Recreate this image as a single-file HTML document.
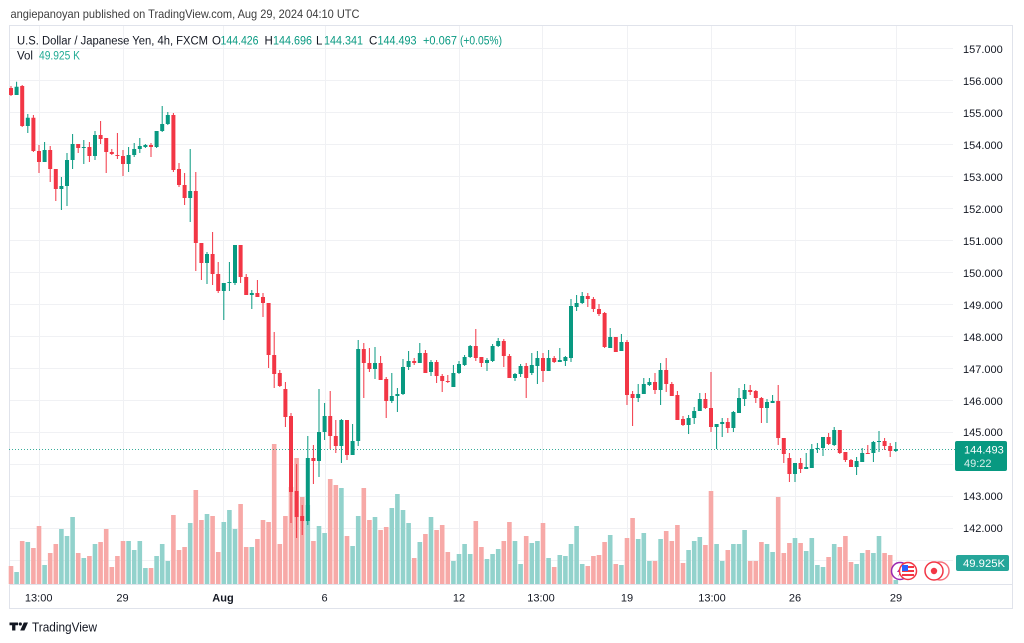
<!DOCTYPE html>
<html>
<head>
<meta charset="utf-8">
<style>
html,body{margin:0;padding:0;background:#fff;}
svg{display:block;font-family:"Liberation Sans",sans-serif;}
</style>
</head>
<body>
<svg width="1024" height="643" viewBox="0 0 1024 643" xmlns="http://www.w3.org/2000/svg">
<rect width="1024" height="643" fill="#fff"/>
<text x="10.5" y="18" font-size="12" fill="#3d3d3d" textLength="349" lengthAdjust="spacingAndGlyphs">angiepanoyan published on TradingView.com, Aug 29, 2024 04:10 UTC</text>

<!-- grid -->
<g stroke="#f0f1f4" stroke-width="1">
<path d="M9 48.5H953M9 80.5H953M9 112.5H953M9 144.5H953M9 176.5H953M9 208.5H953M9 240.5H953M9 272.5H953M9 304.5H953M9 336.5H953M9 368.5H953M9 400.5H953M9 432.5H953M9 464.5H953M9 496.5H953M9 528.5H953M9 560.5H953"/>
<path d="M39.5 26V584M123.5 26V584M223.5 26V584M325.5 26V584M459.5 26V584M542.5 26V584M627.5 26V584M711.5 26V584M795.5 26V584M896.5 26V584"/>
</g>

<!-- frame -->
<rect x="9.5" y="25.5" width="1003" height="583" fill="none" stroke="#e0e3eb"/>
<path d="M9 584.5H1013" stroke="#e0e3eb"/>

<!-- volume -->
<path fill="#92d2cc" d="M14.3 572h4.6V584h-4.6zM25.5 542h4.6V584h-4.6zM42.3 565h4.6V584h-4.6zM59.1 529h4.6V584h-4.6zM64.7 536h4.6V584h-4.6zM70.3 517h4.6V584h-4.6zM81.5 558h4.6V584h-4.6zM92.7 544h4.6V584h-4.6zM126.3 541h4.6V584h-4.6zM131.9 550h4.6V584h-4.6zM137.5 541h4.6V584h-4.6zM143.1 568h4.6V584h-4.6zM154.3 556h4.6V584h-4.6zM159.9 544h4.6V584h-4.6zM165.5 561h4.6V584h-4.6zM187.9 523h4.6V584h-4.6zM204.7 514h4.6V584h-4.6zM221.5 522h4.6V584h-4.6zM227.1 510h4.6V584h-4.6zM232.7 529h4.6V584h-4.6zM249.5 547h4.6V584h-4.6zM305.5 505h4.6V584h-4.6zM316.7 526h4.6V584h-4.6zM322.3 533h4.6V584h-4.6zM339.1 488h4.6V584h-4.6zM350.3 546h4.6V584h-4.6zM355.9 516h4.6V584h-4.6zM372.7 517h4.6V584h-4.6zM389.5 508h4.6V584h-4.6zM395.1 494h4.6V584h-4.6zM400.7 510h4.6V584h-4.6zM406.3 523h4.6V584h-4.6zM417.5 542h4.6V584h-4.6zM428.7 517h4.6V584h-4.6zM451.1 561h4.6V584h-4.6zM456.7 554h4.6V584h-4.6zM462.3 544h4.6V584h-4.6zM467.9 554h4.6V584h-4.6zM484.7 559h4.6V584h-4.6zM490.3 554h4.6V584h-4.6zM495.9 549h4.6V584h-4.6zM512.7 541h4.6V584h-4.6zM518.3 564h4.6V584h-4.6zM529.5 543h4.6V584h-4.6zM535.1 541h4.6V584h-4.6zM546.3 558h4.6V584h-4.6zM557.5 555h4.6V584h-4.6zM563.1 556h4.6V584h-4.6zM568.7 544h4.6V584h-4.6zM574.3 526h4.6V584h-4.6zM579.9 564h4.6V584h-4.6zM607.9 535h4.6V584h-4.6zM619.1 565h4.6V584h-4.6zM635.9 539h4.6V584h-4.6zM641.5 533h4.6V584h-4.6zM647.1 561h4.6V584h-4.6zM658.3 539h4.6V584h-4.6zM686.3 550h4.6V584h-4.6zM691.9 541h4.6V584h-4.6zM697.5 537h4.6V584h-4.6zM714.3 544h4.6V584h-4.6zM719.9 561h4.6V584h-4.6zM731.1 544h4.6V584h-4.6zM736.7 544h4.6V584h-4.6zM742.3 530h4.6V584h-4.6zM764.7 544h4.6V584h-4.6zM770.3 552h4.6V584h-4.6zM792.7 538h4.6V584h-4.6zM803.9 551h4.6V584h-4.6zM809.5 538h4.6V584h-4.6zM815.1 565h4.6V584h-4.6zM820.7 567h4.6V584h-4.6zM831.9 544h4.6V584h-4.6zM854.3 564h4.6V584h-4.6zM859.9 553h4.6V584h-4.6zM871.1 553h4.6V584h-4.6zM876.7 536h4.6V584h-4.6zM893.5 580h4.6V584h-4.6z"/>
<path fill="#f7a9a7" d="M8.7 566h4.6V584h-4.6zM19.9 541h4.6V584h-4.6zM31.1 548h4.6V584h-4.6zM36.7 526h4.6V584h-4.6zM47.9 553h4.6V584h-4.6zM53.5 544h4.6V584h-4.6zM75.9 553h4.6V584h-4.6zM87.1 556h4.6V584h-4.6zM98.3 542h4.6V584h-4.6zM103.9 529h4.6V584h-4.6zM109.5 567h4.6V584h-4.6zM115.1 556h4.6V584h-4.6zM120.7 541h4.6V584h-4.6zM148.7 568h4.6V584h-4.6zM171.1 515h4.6V584h-4.6zM176.7 550h4.6V584h-4.6zM182.3 547h4.6V584h-4.6zM193.5 490h4.6V584h-4.6zM199.1 520h4.6V584h-4.6zM210.3 516h4.6V584h-4.6zM215.9 552h4.6V584h-4.6zM238.3 504h4.6V584h-4.6zM243.9 547h4.6V584h-4.6zM255.1 539h4.6V584h-4.6zM260.7 520h4.6V584h-4.6zM266.3 522h4.6V584h-4.6zM271.9 444h4.6V584h-4.6zM277.5 544h4.6V584h-4.6zM283.1 516h4.6V584h-4.6zM288.7 487h4.6V584h-4.6zM294.3 458h4.6V584h-4.6zM299.9 497h4.6V584h-4.6zM311.1 541h4.6V584h-4.6zM327.9 479h4.6V584h-4.6zM333.5 485h4.6V584h-4.6zM344.7 536h4.6V584h-4.6zM361.5 488h4.6V584h-4.6zM367.1 520h4.6V584h-4.6zM378.3 530h4.6V584h-4.6zM383.9 527h4.6V584h-4.6zM411.9 558h4.6V584h-4.6zM423.1 534h4.6V584h-4.6zM434.3 530h4.6V584h-4.6zM439.9 525h4.6V584h-4.6zM445.5 552h4.6V584h-4.6zM473.5 521h4.6V584h-4.6zM479.1 547h4.6V584h-4.6zM501.5 541h4.6V584h-4.6zM507.1 522h4.6V584h-4.6zM523.9 536h4.6V584h-4.6zM540.7 523h4.6V584h-4.6zM551.9 567h4.6V584h-4.6zM585.5 566h4.6V584h-4.6zM591.1 556h4.6V584h-4.6zM596.7 555h4.6V584h-4.6zM602.3 542h4.6V584h-4.6zM613.5 564h4.6V584h-4.6zM624.7 538h4.6V584h-4.6zM630.3 518h4.6V584h-4.6zM652.7 561h4.6V584h-4.6zM663.9 531h4.6V584h-4.6zM669.5 541h4.6V584h-4.6zM675.1 525h4.6V584h-4.6zM680.7 563h4.6V584h-4.6zM703.1 545h4.6V584h-4.6zM708.7 491h4.6V584h-4.6zM725.5 550h4.6V584h-4.6zM747.9 561h4.6V584h-4.6zM753.5 561h4.6V584h-4.6zM759.1 542h4.6V584h-4.6zM775.9 497h4.6V584h-4.6zM781.5 553h4.6V584h-4.6zM787.1 543h4.6V584h-4.6zM798.3 543h4.6V584h-4.6zM826.3 557h4.6V584h-4.6zM837.5 547h4.6V584h-4.6zM843.1 536h4.6V584h-4.6zM848.7 562h4.6V584h-4.6zM865.5 550h4.6V584h-4.6zM882.3 553h4.6V584h-4.6zM887.9 555h4.6V584h-4.6z"/>

<!-- last price dotted line -->
<path d="M9 449.5H955" stroke="#089981" stroke-width="1" stroke-dasharray="1 2" opacity="0.8"/>

<!-- candles: green -->
<path stroke="#089981" stroke-width="1" fill="none" d="M16.6 81.7V95M27.8 114V133M44.6 142V162M61.4 177V210M67 153V206M72.6 134V169M83.8 140V164M95 131V160M128.6 147V172M134.2 143V157M139.8 138V153M145.4 144V148M156.6 131V148M162.2 106V132M167.8 112V125M190.2 149V222M207 252V284M223.8 283V320M229.4 262V291M235 245V285M251.8 290V309M307.8 436V525M319 389V477M324.6 403V440M341.4 419V463M352.6 424V455M358.2 340V446M375 347V379M391.8 373V403M397.4 388V412M403 359V395M408.6 351V370M419.8 343V363M431 360V376M453.4 365V387M459 361V374M464.6 355V366M470.2 345V358M487 358V371M492.6 344V362M498.2 338V347M515 373V381M520.6 364V377M531.8 353V375M537.4 351V384M548.6 350V371M559.8 348V362M565.4 356V366M571 299V362M576.6 295V311M582.2 292V304M610.2 328V348M621.4 334V351M638.2 384V402M643.8 378V394M649.4 378V386M660.6 363V405M688.6 415V434M694.2 407V424M699.8 393V411M716.6 424V449M722.2 418V437M733.4 411V432M739 388V413M744.6 384V406M767 399V423M772.6 395V403M795 463V482M806.2 453V469M811.8 444V468M817.4 443V453M823 437V456M834.2 427V446M856.6 457V475M862.2 448V462M873.4 441V462M879 431V452M895.8 442V452"/>
<path fill="#089981" d="M14.6 86.7h4V95h-4zM25.8 117.7h4V126h-4zM42.6 150h4V162h-4zM59.4 186h4V189h-4zM65 160h4V186h-4zM70.6 144h4V160h-4zM81.8 147h4V148h-4zM93 135h4V156h-4zM126.6 155h4V164h-4zM132.2 149h4V155h-4zM137.8 146h4V149h-4zM143.4 145h4V147h-4zM154.6 131h4V147h-4zM160.2 124h4V131h-4zM165.8 115h4V124h-4zM188.2 191h4V198h-4zM205 254h4V263h-4zM221.8 283h4V291h-4zM227.4 282h4V283h-4zM233 245h4V283h-4zM249.8 293h4V295h-4zM305.8 458h4V521h-4zM317 432h4V461h-4zM322.6 416h4V432h-4zM339.4 420h4V446h-4zM350.6 441h4V455h-4zM356.2 349h4V441h-4zM373 363h4V369h-4zM389.8 396h4V401h-4zM395.4 394h4V396h-4zM401 367h4V394h-4zM406.6 361h4V367h-4zM417.8 353h4V363h-4zM429 362h4V372h-4zM451.4 373h4V387h-4zM457 364h4V373h-4zM462.6 357h4V365h-4zM468.2 346h4V357h-4zM485 360h4V363h-4zM490.6 346h4V361h-4zM496.2 341h4V346h-4zM513 374h4V378h-4zM518.6 366h4V374h-4zM529.8 365h4V373h-4zM535.4 358h4V366h-4zM546.6 358h4V371h-4zM557.8 360h4V362h-4zM563.4 357h4V361h-4zM569 306h4V358h-4zM574.6 303h4V307h-4zM580.2 296h4V303h-4zM608.2 337h4V348h-4zM619.4 342h4V351h-4zM636.2 394h4V398h-4zM641.8 384h4V394h-4zM647.4 382h4V385h-4zM658.6 370h4V390h-4zM686.6 418h4V425h-4zM692.2 411h4V418h-4zM697.8 399h4V411h-4zM714.6 424h4V427h-4zM720.2 422h4V424h-4zM731.4 412h4V428h-4zM737 398h4V413h-4zM742.6 390h4V399h-4zM765 402h4V408h-4zM770.6 401h4V403h-4zM793 463h4V474h-4zM804.2 467h4V469h-4zM809.8 449h4V468h-4zM815.4 448h4V449h-4zM821 437h4V448h-4zM832.2 430h4V445h-4zM854.6 461h4V467h-4zM860.2 453h4V462h-4zM871.4 442h4V453h-4zM877 441h4V442h-4zM893.8 449h4V451h-4z"/>

<!-- candles: red -->
<path stroke="#f23645" stroke-width="1" fill="none" d="M11 86V96M22.2 85V127M33.4 115V152M39 145V173M50.2 146V182M55.8 169V201M78.2 144V153M89.4 142V162M100.6 121V144M106.2 138V173M111.8 149V155M117.4 133V159M123 150V176M151 143V157M173.4 113V172M179 163V187M184.6 173V205M195.8 172V271M201.4 243V280M212.6 232V285M218.2 262V293M240.6 245V283M246.2 274V295M257.4 280V297M263 293V317M268.6 303V368M274.2 332V388M279.8 370V387M285.4 382V427M291 413V523M296.6 464V538M302.2 505V535M313.4 445V484M330.2 391V449M335.8 420V453M347 420V460M363.8 343V398M369.4 348V372M380.6 356V380M386.2 377V418M414.2 358V365M425.4 350V373M436.6 360V383M442.2 374V392M447.8 375V383M475.8 329V361M481.4 357V367M503.8 339V367M509.4 354V378M526.2 363V398M543 353V382M554.2 356V363M587.8 293V307M593.4 297V312M599 304V316M604.6 312V348M615.8 337V352M627 340V405M632.6 391V426M655 373V394M666.2 358V392M671.8 382V396M677.4 391V420M683 416V426M705.4 393V409M711 372V432M727.8 418V433M750.2 385V395M755.8 390V403M761.4 397V423M778.2 385V445M783.8 438V463M789.4 453V482M800.6 458V473M828.6 433V445M839.8 430V454M845.4 452V462M851 459V467M867.8 445V454M884.6 438V450M890.2 443V457"/>
<path fill="#f23645" d="M9 88h4V95h-4zM20.2 86h4V126h-4zM31.4 117.7h4V151h-4zM37 151h4V162h-4zM48.2 150h4V169h-4zM53.8 169h4V189h-4zM76.2 144h4V148h-4zM87.4 147h4V156h-4zM98.6 135h4V139h-4zM104.2 138h4V152h-4zM109.8 152h4V154h-4zM115.4 155h4V156h-4zM121 156h4V164h-4zM149 145h4V147h-4zM171.4 115h4V170h-4zM177 169h4V185h-4zM182.6 185h4V198h-4zM193.8 191h4V243h-4zM199.4 243h4V263h-4zM210.6 254h4V274h-4zM216.2 274h4V291h-4zM238.6 245h4V277h-4zM244.2 277h4V295h-4zM255.4 293h4V297h-4zM261 297h4V303h-4zM266.6 303h4V355h-4zM272.2 355h4V374h-4zM277.8 373h4V386h-4zM283.4 389h4V417h-4zM289 416h4V492h-4zM294.6 491h4V517h-4zM300.2 516h4V521h-4zM311.4 458h4V461h-4zM328.2 416h4V436h-4zM333.8 436h4V446h-4zM345 420h4V455h-4zM361.8 349h4V363h-4zM367.4 363h4V369h-4zM378.6 363h4V380h-4zM384.2 379h4V401h-4zM412.2 361h4V363h-4zM423.4 353h4V373h-4zM434.6 362h4V376h-4zM440.2 376h4V381h-4zM445.8 381h4V382h-4zM473.8 346h4V358h-4zM479.4 357h4V363h-4zM501.8 341h4V356h-4zM507.4 356h4V378h-4zM524.2 366h4V378h-4zM541 358h4V371h-4zM552.2 358h4V362h-4zM585.8 296h4V299h-4zM591.4 299h4V309h-4zM597 309h4V314h-4zM602.6 313h4V347h-4zM613.8 337h4V352h-4zM625 342h4V395h-4zM630.6 394h4V398h-4zM653 382h4V390h-4zM664.2 370h4V384h-4zM669.8 384h4V396h-4zM675.4 395h4V420h-4zM681 419h4V425h-4zM703.4 399h4V408h-4zM709 408h4V427h-4zM725.8 422h4V428h-4zM748.2 390h4V392h-4zM753.8 391h4V398h-4zM759.4 398h4V408h-4zM776.2 401h4V438h-4zM781.8 438h4V454h-4zM787.4 458h4V474h-4zM798.6 463h4V469h-4zM826.6 437h4V444h-4zM837.8 430h4V453h-4zM843.4 452h4V460h-4zM849 460h4V467h-4zM865.8 453h4V454h-4zM882.6 441h4V446h-4zM888.2 446h4V451h-4z"/>

<!-- event icons -->
<g>
<circle cx="900" cy="571" r="8.5" fill="#fff" stroke="#9c27b0" stroke-width="1.5"/>
<path d="M902 565l-5 7h3l-2 5 5-7h-3z" fill="#9c27b0"/>
<circle cx="908" cy="571" r="8.5" fill="#fff" stroke="#f23645" stroke-width="1.5"/>
<rect x="902" y="566" width="12" height="2" fill="#f23645"/>
<rect x="902" y="570" width="12" height="2" fill="#f23645"/>
<rect x="902" y="574" width="12" height="2" fill="#f23645"/>
<rect x="902" y="565" width="6" height="6" fill="#2962ff"/>
<circle cx="940" cy="571" r="9" fill="#fff" stroke="#f23645" stroke-width="1.5" opacity="0.7"/>
<circle cx="934" cy="571" r="9" fill="#fff" stroke="#f23645" stroke-width="1.5"/>
<circle cx="934" cy="571" r="3.2" fill="#f23645"/>
</g>

<!-- legend -->
<g font-size="11.5">
<text x="17" y="44.5" fill="#131722" textLength="191" lengthAdjust="spacingAndGlyphs">U.S. Dollar / Japanese Yen, 4h, FXCM</text>
<text x="212" y="44.5" fill="#131722">O</text>
<text x="220.5" y="44.5" fill="#089981" textLength="38" lengthAdjust="spacingAndGlyphs">144.426</text>
<text x="264.5" y="44.5" fill="#131722">H</text>
<text x="273" y="44.5" fill="#089981" textLength="39" lengthAdjust="spacingAndGlyphs">144.696</text>
<text x="316" y="44.5" fill="#131722">L</text>
<text x="324" y="44.5" fill="#089981" textLength="39" lengthAdjust="spacingAndGlyphs">144.341</text>
<text x="369" y="44.5" fill="#131722">C</text>
<text x="377.5" y="44.5" fill="#089981" textLength="39" lengthAdjust="spacingAndGlyphs">144.493</text>
<text x="423" y="44.5" fill="#089981" textLength="34" lengthAdjust="spacingAndGlyphs">+0.067</text>
<text x="460" y="44.5" fill="#089981" textLength="42" lengthAdjust="spacingAndGlyphs">(+0.05%)</text>
<text x="17" y="59.5" fill="#131722">Vol</text>
<text x="39" y="59.5" fill="#22ab94" textLength="41" lengthAdjust="spacingAndGlyphs">49.925 K</text>
</g>

<!-- price axis labels -->
<g font-size="11" fill="#131722">
<text x="963" y="53">157.000</text>
<text x="963" y="85">156.000</text>
<text x="963" y="117">155.000</text>
<text x="963" y="149">154.000</text>
<text x="963" y="181">153.000</text>
<text x="963" y="213">152.000</text>
<text x="963" y="245">151.000</text>
<text x="963" y="277">150.000</text>
<text x="963" y="309">149.000</text>
<text x="963" y="341">148.000</text>
<text x="963" y="373">147.000</text>
<text x="963" y="405">146.000</text>
<text x="963" y="436">145.000</text>
<text x="963" y="500">143.000</text>
<text x="963" y="532">142.000</text>
</g>
<rect x="955" y="441" width="52" height="30" rx="2" fill="#089981"/>
<text x="964" y="453.5" font-size="11" fill="#fff">144.493</text>
<text x="964" y="467" font-size="11" fill="#fff" opacity="0.85">49:22</text>
<rect x="956" y="555" width="53" height="16" rx="2" fill="#26a69a"/>
<text x="963" y="567" font-size="11" fill="#fff" textLength="42" lengthAdjust="spacingAndGlyphs">49.925K</text>

<!-- time axis labels -->
<g font-size="11" fill="#131722" text-anchor="middle">
<text x="38.7" y="601.5">13:00</text>
<text x="122.5" y="601.5">29</text>
<text x="223" y="601.5" font-weight="bold">Aug</text>
<text x="324.5" y="601.5">6</text>
<text x="459" y="601.5">12</text>
<text x="541" y="601.5">13:00</text>
<text x="627" y="601.5">19</text>
<text x="712" y="601.5">13:00</text>
<text x="795" y="601.5">26</text>
<text x="896" y="601.5">29</text>
</g>

<!-- footer logo -->
<g fill="#131722">
<path d="M9.5 622.5h8.5v2.8h-2.6v5.2h-3.3v-5.2h-2.6z"/>
<circle cx="20.3" cy="624" r="1.6"/>
<path d="M23.8 622.5h4.2l-3.6 8h-4.2z"/>
</g>
<text x="32" y="631.5" font-size="13" fill="#131722" textLength="65" lengthAdjust="spacingAndGlyphs">TradingView</text>
</svg>
</body>
</html>
